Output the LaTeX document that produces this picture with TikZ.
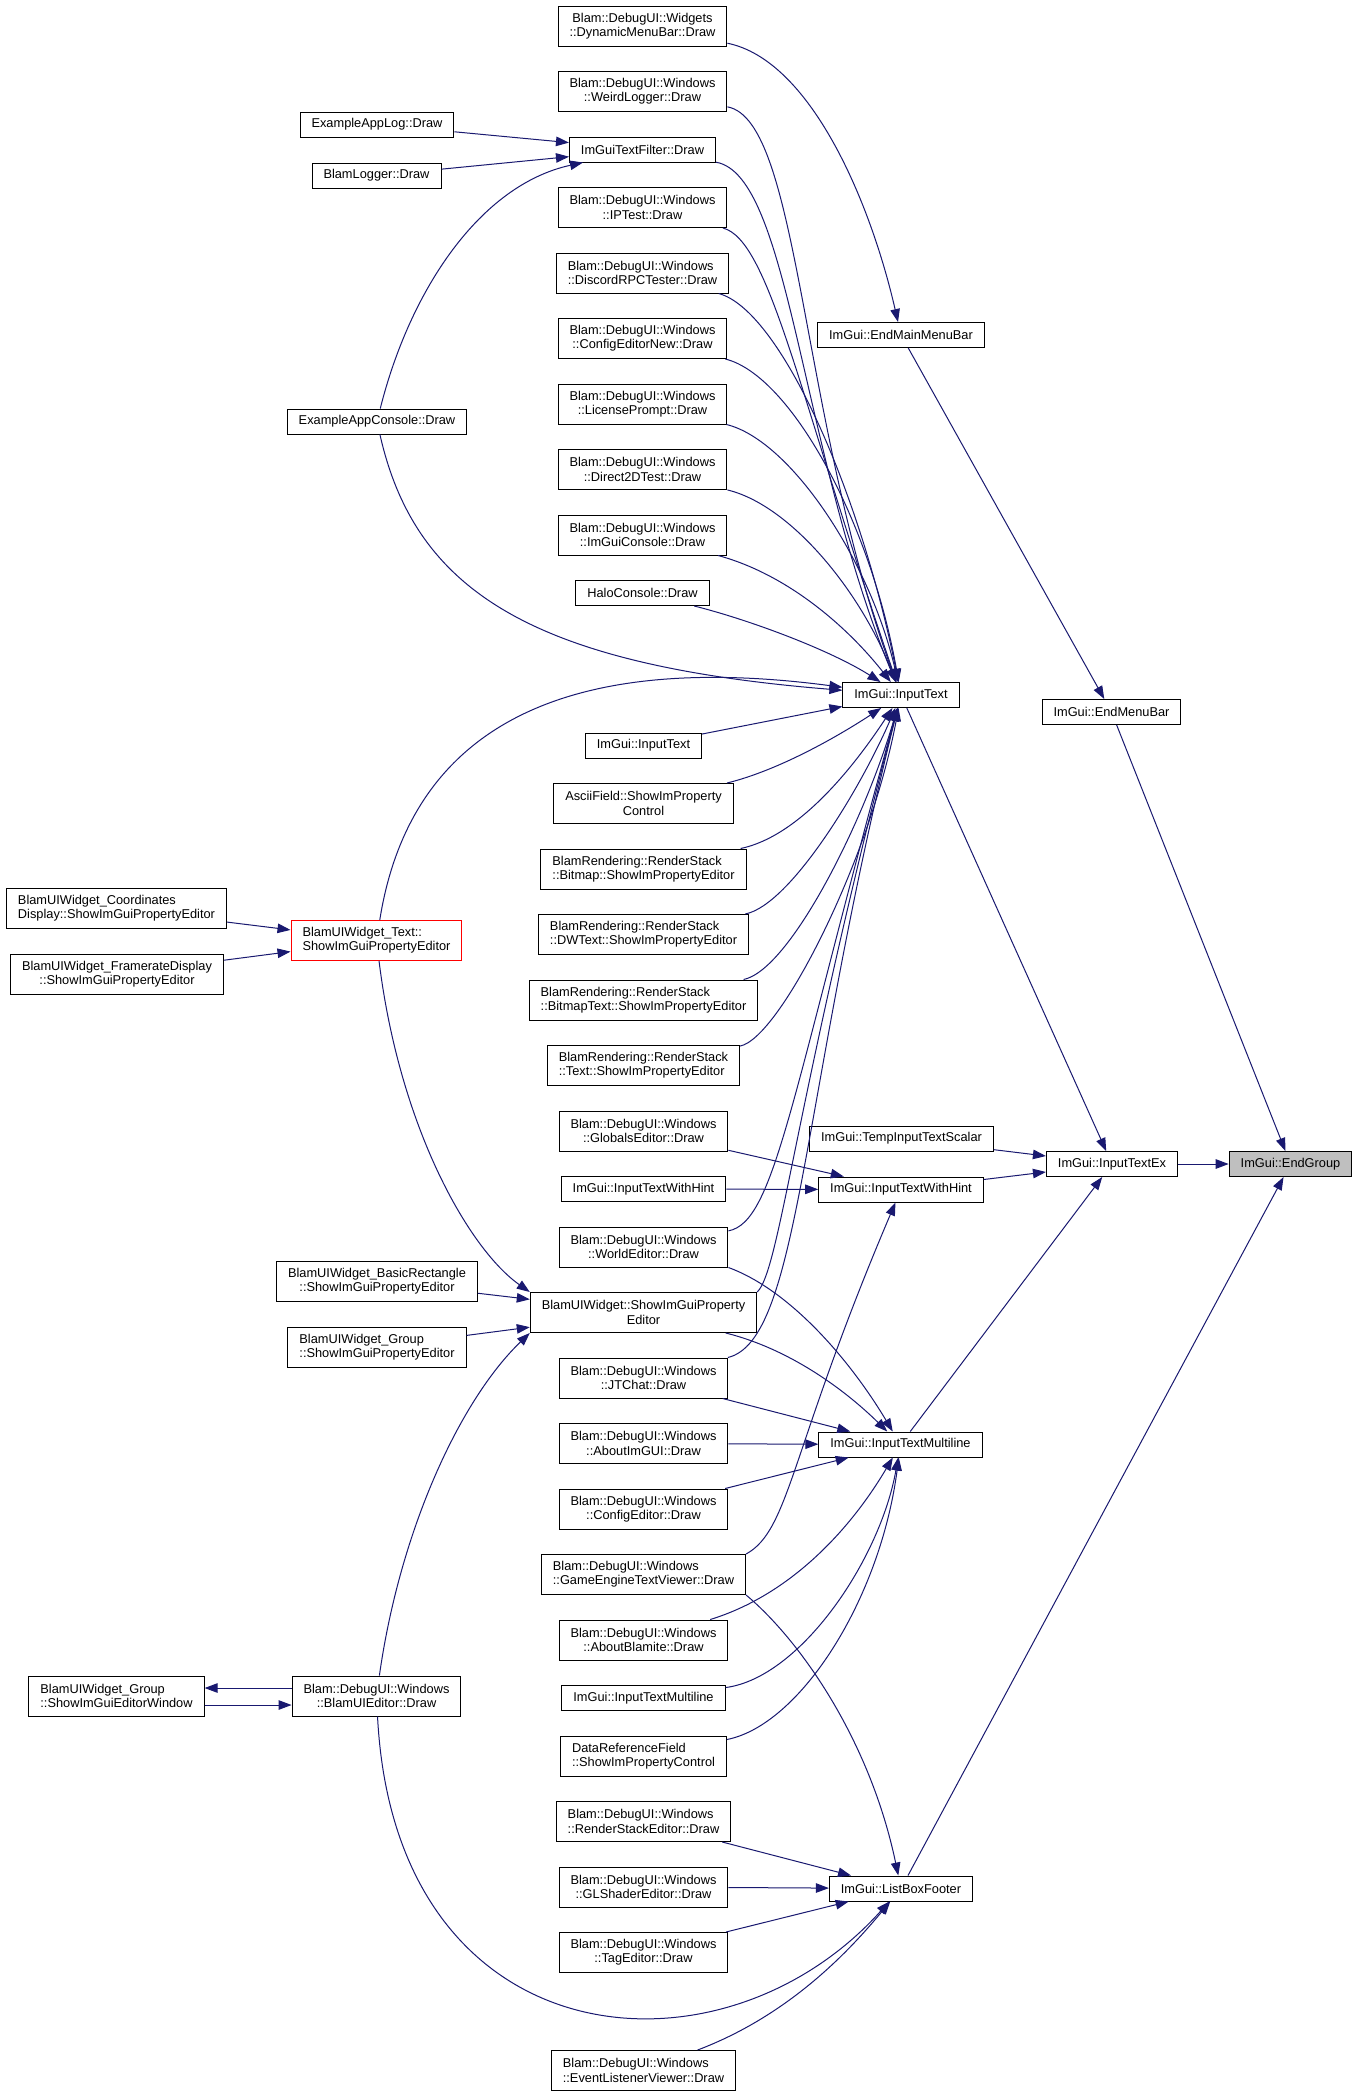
\documentclass[tikz,border=0pt]{standalone}
\usepackage{fontspec}
\setmainfont{Liberation Sans}
\usetikzlibrary{positioning}
\usetikzlibrary{arrows.meta}
\definecolor{callblue}{HTML}{191970}
\definecolor{boxgray}{HTML}{BFBFBF}

\begin{document}
\begin{tikzpicture}[x=1pt,y=-1pt,node distance=24.5pt,
	func/.style={draw=black,line width=1pt,fill=white,inner xsep=11.5pt,inner ysep=5pt,minimum height=25pt,align=center,font=\fontsize{12.8}{14.3}\selectfont},
	func2/.style={func,minimum height=40pt},
	calls/.style={draw=callblue,line width=1pt,-{Triangle[length=13pt,width=9.5pt]}}]
	\fill[white] (0,0) rectangle (1357,2097);
	\useasboundingbox (0,0) rectangle (1357,2097);
	% Place nodes
	\node [func2] (dynmenu) at (642.5,26) {Blam::DebugUI::Widgets\\::DynamicMenuBar::Draw};
	\node [func2,below=of dynmenu] (weirdlog) {Blam::DebugUI::Windows\\::WeirdLogger::Draw};
	\node [func,below=of weirdlog] (textfilter) {ImGuiTextFilter::Draw};
	\node [func2,below=of textfilter] (iptest) {Blam::DebugUI::Windows\\::IPTest::Draw};
	\node [func2,align=left,below=of iptest] (discord) {Blam::DebugUI::Windows\\::DiscordRPCTester::Draw};
	\node [func2,below=of discord] (cfgnew) {Blam::DebugUI::Windows\\::ConfigEditorNew::Draw};
	\node [func2,below=of cfgnew] (license) {Blam::DebugUI::Windows\\::LicensePrompt::Draw};
	\node [func2,below=of license] (d2d) {Blam::DebugUI::Windows\\::Direct2DTest::Draw};
	\node [func2,below=of d2d] (imcons) {Blam::DebugUI::Windows\\::ImGuiConsole::Draw};
	\node [func,below=of imcons] (halo) {HaloConsole::Draw};
	\node [func] (inputtextL) at (643.5,745.5) {ImGui::InputText};
	\node [func2,below=of inputtextL] (ascii) {AsciiField::ShowImProperty\\Control};
	\node [func2,align=left,below=of ascii] (rsbitmap) {BlamRendering::RenderStack\\::Bitmap::ShowImPropertyEditor};
	\node [func2,align=left,below=of rsbitmap] (rsdwtext) {BlamRendering::RenderStack\\::DWText::ShowImPropertyEditor};
	\node [func2,align=left,below=of rsdwtext] (rsbmptext) {BlamRendering::RenderStack\\::BitmapText::ShowImPropertyEditor};
	\node [func2,align=left,below=of rsbmptext] (rstext) {BlamRendering::RenderStack\\::Text::ShowImPropertyEditor};
	\node [func2,below=of rstext] (globals) {Blam::DebugUI::Windows\\::GlobalsEditor::Draw};
	\node [func,below=of globals] (hintL) {ImGui::InputTextWithHint};
	\node [func2,below=of hintL] (world) {Blam::DebugUI::Windows\\::WorldEditor::Draw};
	\node [func2,below=of world] (propedit) {BlamUIWidget::ShowImGuiProperty\\Editor};
	\node [func2,below=of propedit] (jtchat) {Blam::DebugUI::Windows\\::JTChat::Draw};
	\node [func2,below=of jtchat] (aboutimgui) {Blam::DebugUI::Windows\\::AboutImGUI::Draw};
	\node [func2,below=of aboutimgui] (cfgedit) {Blam::DebugUI::Windows\\::ConfigEditor::Draw};
	\node [func2,align=left,below=of cfgedit] (gametext) {Blam::DebugUI::Windows\\::GameEngineTextViewer::Draw};
	\node [func2,below=of gametext] (aboutblam) {Blam::DebugUI::Windows\\::AboutBlamite::Draw};
	\node [func,below=of aboutblam] (multiL) {ImGui::InputTextMultiline};
	\node [func2,align=left,below=of multiL] (dataref) {DataReferenceField\\::ShowImPropertyControl};
	\node [func2,align=left,below=of dataref] (rsedit) {Blam::DebugUI::Windows\\::RenderStackEditor::Draw};
	\node [func2,below=of rsedit] (glshader) {Blam::DebugUI::Windows\\::GLShaderEditor::Draw};
	\node [func2,below=of glshader] (tagedit) {Blam::DebugUI::Windows\\::TagEditor::Draw};
	\node [func2,align=left,below=77pt of tagedit] (evlisten) {Blam::DebugUI::Windows\\::EventListenerViewer::Draw};

	\node [func] (applog) at (377,124.5) {ExampleAppLog::Draw};
	\node [func] (blamlog) at (376.5,175.5) {BlamLogger::Draw};
	\node [func] (appcons) at (377,421.5) {ExampleAppConsole::Draw};
	\node [func2,align=left,draw=red] (wtext) at (376.5,940.5) {BlamUIWidget\_Text::\\ShowImGuiPropertyEditor};
	\node [func2] (basicrect) at (377,1281.5) {BlamUIWidget\_BasicRectangle\\::ShowImGuiPropertyEditor};
	\node [func2,align=left] (grpprop) at (377,1347) {BlamUIWidget\_Group\\::ShowImGuiPropertyEditor};
	\node [func2] (uieditor) at (376.5,1696) {Blam::DebugUI::Windows\\::BlamUIEditor::Draw};
	\node [func2,align=left] (coords) at (116.5,908.5) {BlamUIWidget\_Coordinates\\Display::ShowImGuiPropertyEditor};
	\node [func2] (framerate) at (117,974) {BlamUIWidget\_FramerateDisplay\\::ShowImGuiPropertyEditor};
	\node [func2,align=left] (grpwin) at (116.5,1696) {BlamUIWidget\_Group\\::ShowImGuiEditorWindow};

	\node [func] (endmain) at (901,335) {ImGui::EndMainMenuBar};
	\node [func] (inputtextR) at (901,695) {ImGui::InputText};
	\node [func] (tempscalar) at (901.5,1138.5) {ImGui::TempInputTextScalar};
	\node [func] (hintR) at (901,1189.5) {ImGui::InputTextWithHint};
	\node [func] (multiR) at (900.5,1444.5) {ImGui::InputTextMultiline};
	\node [func] (listbox) at (901,1888.5) {ImGui::ListBoxFooter};
	\node [func] (endmenubar) at (1111.5,712) {ImGui::EndMenuBar};
	\node [func] (inputex) at (1112,1164) {ImGui::InputTextEx};
	\node [func,fill=boxgray] (endgroup) at (1290.5,1164) {ImGui::EndGroup};

	% Callers of ImGuiTextFilter::Draw and the menu bars
	\draw[calls] (applog) -- (textfilter);
	\draw[calls] (blamlog) -- (textfilter);
	\draw[calls] (appcons) .. controls (410,290) and (480,185) .. (textfilter);
	\draw[calls] (dynmenu) .. controls (810,60) and (870,200) .. (endmain);
	\draw[calls] (endmain) -- (endmenubar);
	\draw[calls] (endmenubar) -- (endgroup);

	% Callers of ImGui::InputText
	\draw[calls] (weirdlog) .. controls (800,120) and (800,420) .. (inputtextR);
	\draw[calls] (textfilter) .. controls (790,175) and (800,450) .. (inputtextR);
	\draw[calls] (iptest) .. controls (770,240) and (800,400) .. (inputtextR);
	\draw[calls] (discord) .. controls (780,310) and (860,490) .. (inputtextR);
	\draw[calls] (cfgnew) .. controls (790,375) and (870,520) .. (inputtextR);
	\draw[calls] (license) .. controls (790,440) and (870,560) .. (inputtextR);
	\draw[calls] (d2d) .. controls (790,505) and (860,590) .. (inputtextR);
	\draw[calls] (imcons) .. controls (790,575) and (850,630) .. (inputtextR);
	\draw[calls] (halo) .. controls (750,620) and (830,650) .. (inputtextR);
	\draw[calls] (appcons) .. controls (415,590) and (530,665) .. (inputtextR);
	\draw[calls] (wtext) .. controls (410,730) and (560,650) .. (inputtextR);
	\draw[calls] (inputtextL) -- (inputtextR);
	\draw[calls] (ascii) .. controls (780,770) and (840,735) .. (inputtextR);
	\draw[calls] (rsbitmap) .. controls (800,836) and (855,765) .. (inputtextR);
	\draw[calls] (rsdwtext) .. controls (790,905) and (860,790) .. (inputtextR);
	\draw[calls] (rsbmptext) .. controls (790,970) and (865,820) .. (inputtextR);
	\draw[calls] (rstext) .. controls (780,1038) and (870,860) .. (inputtextR);
	\draw[calls] (world) .. controls (775,1222) and (790,1100) .. (inputtextR);
	\draw[calls] (propedit.north east) .. controls (780,1270) and (795,1100) .. (inputtextR);
	\draw[calls] (jtchat) .. controls (800,1340) and (800,1100) .. (inputtextR);
	\draw[calls] (inputtextR) -- (inputex);

	% Callers of ImGui::InputTextWithHint
	\draw[calls] (globals) -- (hintR);
	\draw[calls] (hintL) -- (hintR);
	\draw[calls] (gametext.north east) .. controls (790,1530) and (790,1450) .. (hintR);
	\draw[calls] (tempscalar) -- (inputex);
	\draw[calls] (hintR) -- (inputex);

	% Callers of ImGui::InputTextMultiline
	\draw[calls] (world.south east) .. controls (790,1290) and (850,1360) .. (multiR);
	\draw[calls] (propedit) .. controls (790,1349) and (845,1390) .. (multiR);
	\draw[calls] (jtchat) -- (multiR);
	\draw[calls] (aboutimgui) -- (multiR);
	\draw[calls] (cfgedit) -- (multiR);
	\draw[calls] (aboutblam) .. controls (790,1595) and (850,1530) .. (multiR);
	\draw[calls] (multiL) .. controls (800,1678) and (880,1560) .. (multiR);
	\draw[calls] (dataref) .. controls (800,1725) and (880,1600) .. (multiR);
	\draw[calls] (multiR) -- (inputex);

	% Callers of ImGui::ListBoxFooter
	\draw[calls] (gametext.south east) .. controls (800,1640) and (870,1740) .. (listbox);
	\draw[calls] (rsedit) -- (listbox);
	\draw[calls] (glshader) -- (listbox);
	\draw[calls] (tagedit) -- (listbox);
	\draw[calls] (evlisten) .. controls (790,2015) and (850,1950) .. (listbox);
	\draw[calls] (uieditor) .. controls (395,2060) and (720,2090) .. (listbox);
	\draw[calls] (listbox) -- (endgroup);
	\draw[calls] (inputex) -- (endgroup);

	% BlamUIWidget editors
	\draw[calls] (coords) -- (wtext);
	\draw[calls] (framerate) -- (wtext);
	\draw[calls] (wtext) .. controls (400,1130) and (470,1250) .. (propedit.north west);
	\draw[calls] (basicrect) -- (propedit);
	\draw[calls] (grpprop) -- (propedit);
	\draw[calls] (uieditor) .. controls (400,1530) and (460,1400) .. (propedit.south west);
	\draw[calls] ([yshift=8pt]uieditor.west) -- ([yshift=8pt]grpwin.east);
	\draw[calls] ([yshift=-9pt]grpwin.east) -- ([yshift=-9pt]uieditor.west);
\end{tikzpicture}
\end{document}
